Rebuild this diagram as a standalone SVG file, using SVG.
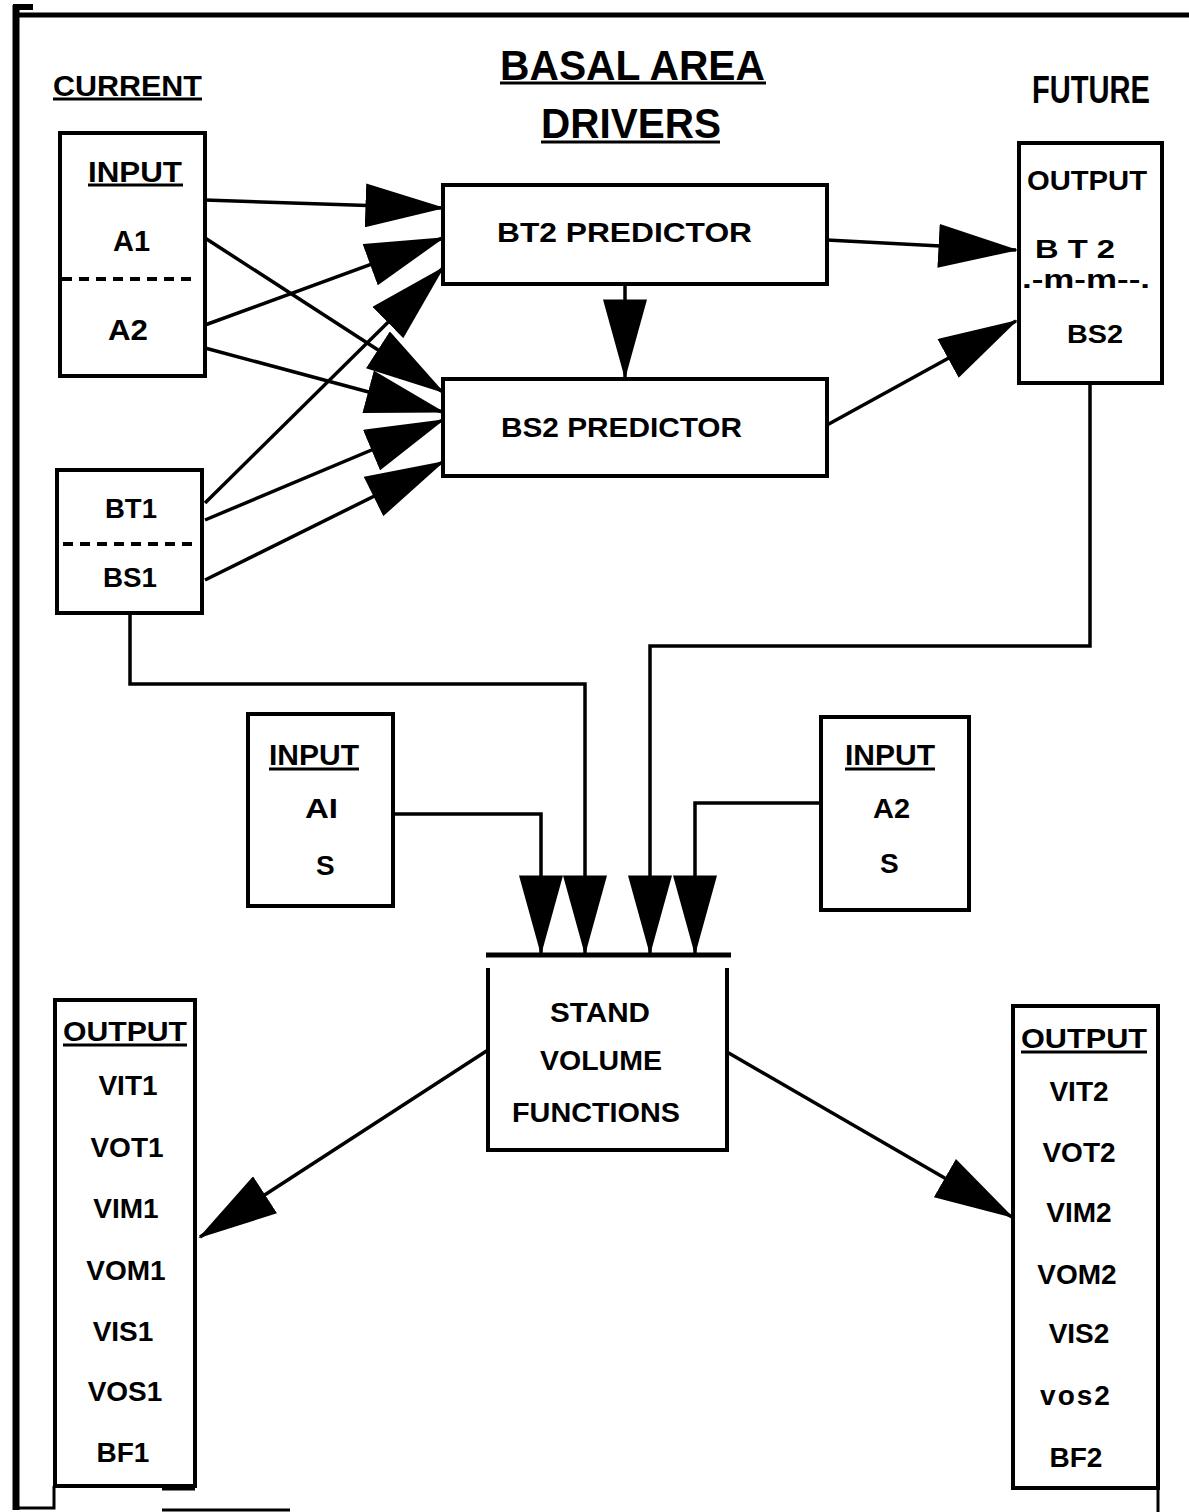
<svg xmlns="http://www.w3.org/2000/svg" width="1189" height="1512" viewBox="0 0 1189 1512">
<defs>
<marker id="ah" markerUnits="userSpaceOnUse" markerWidth="80" markerHeight="44" viewBox="0 0 76 42" refX="74" refY="21" orient="auto">
<path d="M0,0 L76,21 L0,42 Z" fill="#000"/>
</marker>
<style>
.t{font-family:"Liberation Sans",Arial,sans-serif;font-weight:bold;fill:#000}
.box{fill:none;stroke:#000;stroke-width:4}
.c{fill:none;stroke:#000;stroke-width:3.5;marker-end:url(#ah)}
.u{stroke:#000;stroke-width:3}
.dash{stroke:#000;stroke-width:4;stroke-dasharray:10 7}
.fr{stroke:#000;fill:none}
</style>
</defs>
<rect width="1189" height="1512" fill="#fff"/>

<g id="frame">
<path class="fr" d="M13,15 H1189" stroke-width="5"/>
<path class="fr" d="M16,5 V1510" stroke-width="7"/>
<rect x="13" y="4" width="20" height="6" fill="#000"/>
<path class="fr" d="M16,1508 H54 V1486" stroke-width="3"/>
<path class="fr" d="M162,1510 H290" stroke-width="3"/>
<path class="fr" d="M162,1488 H195" stroke-width="5"/>
<path class="fr" d="M1158,1488 V1512" stroke-width="3"/>
</g>

<g id="titles">
<text class="t" x="53" y="96" font-size="29" textLength="149" lengthAdjust="spacingAndGlyphs">CURRENT</text>
<line class="u" x1="53" y1="99" x2="202" y2="99"/>
<text class="t" x="500" y="80" font-size="42" textLength="265" lengthAdjust="spacingAndGlyphs">BASAL AREA</text>
<line class="u" x1="500" y1="83" x2="766" y2="83"/>
<text class="t" x="541" y="138" font-size="42" textLength="180" lengthAdjust="spacingAndGlyphs">DRIVERS</text>
<line class="u" x1="541" y1="142" x2="720" y2="142"/>
<text class="t" x="1032" y="103" font-size="38" textLength="118" lengthAdjust="spacingAndGlyphs">FUTURE</text>
<text class="t" x="383" y="365" font-size="30">L</text>
</g>

<g id="input-current">
<rect class="box" x="60" y="133" width="145" height="243"/>
<text class="t" x="88" y="182" font-size="30" textLength="94" lengthAdjust="spacingAndGlyphs">INPUT</text>
<line class="u" x1="88" y1="185" x2="183" y2="185"/>
<text class="t" x="113" y="251" font-size="30" textLength="37" lengthAdjust="spacingAndGlyphs">A1</text>
<line class="dash" x1="62" y1="279" x2="196" y2="279"/>
<text class="t" x="108" y="340" font-size="30" textLength="40" lengthAdjust="spacingAndGlyphs">A2</text>
</g>

<g id="bt1-bs1">
<rect class="box" x="57" y="470" width="145" height="143"/>
<text class="t" x="105" y="518" font-size="28" textLength="52" lengthAdjust="spacingAndGlyphs">BT1</text>
<line class="dash" x1="63" y1="544" x2="198" y2="544"/>
<text class="t" x="103" y="587" font-size="28" textLength="54" lengthAdjust="spacingAndGlyphs">BS1</text>
</g>

<g id="bt2-predictor">
<rect class="box" x="443" y="185" width="384" height="99"/>
<text class="t" x="497" y="242" font-size="28" textLength="255" lengthAdjust="spacingAndGlyphs">BT2 PREDICTOR</text>
</g>

<g id="bs2-predictor">
<rect class="box" x="443" y="379" width="384" height="97"/>
<text class="t" x="501" y="437" font-size="28" textLength="241" lengthAdjust="spacingAndGlyphs">BS2 PREDICTOR</text>
</g>

<g id="output-future">
<rect class="box" x="1019" y="143" width="143" height="240"/>
<text class="t" x="1027" y="190" font-size="28" textLength="120" lengthAdjust="spacingAndGlyphs">OUTPUT</text>
<text class="t" x="1035" y="258" font-size="26" textLength="80" lengthAdjust="spacingAndGlyphs">B T 2</text>
<text class="t" x="1022" y="288" font-size="26" textLength="128" lengthAdjust="spacingAndGlyphs">.-m-m--.</text>
<text class="t" x="1067" y="343" font-size="26" textLength="56" lengthAdjust="spacingAndGlyphs">BS2</text>
</g>

<g id="input-a1">
<rect class="box" x="248" y="714" width="145" height="192"/>
<text class="t" x="269" y="765" font-size="30" textLength="90" lengthAdjust="spacingAndGlyphs">INPUT</text>
<line class="u" x1="269" y1="769" x2="359" y2="769"/>
<text class="t" x="305" y="818" font-size="28" textLength="33" lengthAdjust="spacingAndGlyphs">AI</text>
<text class="t" x="316" y="875" font-size="28">S</text>
</g>

<g id="input-a2">
<rect class="box" x="821" y="717" width="148" height="193"/>
<text class="t" x="845" y="765" font-size="30" textLength="90" lengthAdjust="spacingAndGlyphs">INPUT</text>
<line class="u" x1="845" y1="769" x2="935" y2="769"/>
<text class="t" x="873" y="818" font-size="28" textLength="37" lengthAdjust="spacingAndGlyphs">A2</text>
<text class="t" x="880" y="873" font-size="28">S</text>
</g>

<g id="stand-volume">
<path d="M486,955 H731" stroke="#000" stroke-width="5" fill="none"/>
<path d="M488,968 V1150 H727 V968" class="box"/>
<text class="t" x="550" y="1022" font-size="27" textLength="100" lengthAdjust="spacingAndGlyphs">STAND</text>
<text class="t" x="540" y="1070" font-size="27" textLength="122" lengthAdjust="spacingAndGlyphs">VOLUME</text>
<text class="t" x="512" y="1122" font-size="27" textLength="168" lengthAdjust="spacingAndGlyphs">FUNCTIONS</text>
</g>

<g id="output-current" text-anchor="middle">
<rect class="box" x="55" y="1000" width="140" height="486"/>
<text class="t" x="63" y="1041" font-size="28" text-anchor="start" textLength="124" lengthAdjust="spacingAndGlyphs">OUTPUT</text>
<line class="u" x1="63" y1="1045" x2="187" y2="1045"/>
<text class="t" x="128" y="1095" font-size="28">VIT1</text>
<text class="t" x="127" y="1157" font-size="28">VOT1</text>
<text class="t" x="126" y="1218" font-size="28">VIM1</text>
<text class="t" x="126" y="1280" font-size="28">VOM1</text>
<text class="t" x="123" y="1341" font-size="28">VIS1</text>
<text class="t" x="125" y="1401" font-size="28">VOS1</text>
<text class="t" x="123" y="1462" font-size="28">BF1</text>
</g>

<g id="output-future-vol" text-anchor="middle">
<rect class="box" x="1013" y="1006" width="145" height="482"/>
<text class="t" x="1021" y="1048" font-size="28" text-anchor="start" textLength="126" lengthAdjust="spacingAndGlyphs">OUTPUT</text>
<line class="u" x1="1021" y1="1052" x2="1147" y2="1052"/>
<text class="t" x="1079" y="1101" font-size="28">VIT2</text>
<text class="t" x="1079" y="1162" font-size="28">VOT2</text>
<text class="t" x="1079" y="1222" font-size="28">VIM2</text>
<text class="t" x="1077" y="1284" font-size="28">VOM2</text>
<text class="t" x="1079" y="1343" font-size="28">VIS2</text>
<text class="t" x="1076" y="1405" font-size="28" letter-spacing="2">vos2</text>
<text class="t" x="1076" y="1467" font-size="28">BF2</text>
</g>

<g id="connectors">
<path class="c" d="M205,200 L443,208"/>
<path class="c" d="M205,325 L443,238"/>
<path class="c" d="M205,503 L443,268"/>
<path class="c" d="M205,238 L443,392"/>
<path class="c" d="M205,348 L443,412"/>
<path class="c" d="M205,520 L443,420"/>
<path class="c" d="M205,580 L443,462"/>
<path class="c" d="M827,240 L1016,250"/>
<path class="c" d="M827,425 L1016,321"/>
<path class="c" d="M625,285 L625,377"/>
<path class="c" d="M130,613 L130,684 L585,684 L585,953"/>
<path class="c" d="M1090,383 L1090,646 L650,646 L650,953"/>
<path class="c" d="M393,814 L541,814 L541,953"/>
<path class="c" d="M821,803 L695,803 L695,953"/>
<path class="c" d="M488,1050 L200,1237"/>
<path class="c" d="M727,1052 L1012,1217"/>
</g>
</svg>
